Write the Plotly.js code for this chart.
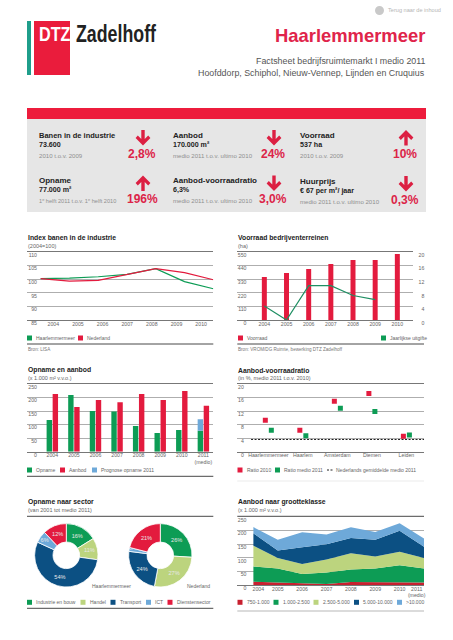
<!DOCTYPE html>
<html><head><meta charset="utf-8">
<script src="https://cdn.plot.ly/plotly-3.0.1.min.js"></script>
<style>html,body{margin:0;padding:0;background:#fff}#c{width:453px;height:640px}</style></head>
<body><div id="c"></div>
<script>
const W=453,H=640;
const RED='#e31b3e',GREEN='#0d9c55',LGREEN='#bcd47e',NAVY='#0c5083',BLUE='#6ea9d9',GREY='#7d7d7d',DARK='#222222';
const FONT='"Liberation Sans", Arial, sans-serif';

// chart 1
const years1=[2004,2005,2006,2007,2008,2009,2010];
const indexHaarlem=[100.2,100.4,100.9,101.8,103.9,99.1,96.5];
const indexNL=[100.2,99.3,99.6,101.7,103.9,102.4,99.8];
// chart 2
const voorraad=[348,380,412,453,485,485,534];
const uitgifteYears=[2004,2005,2006,2007,2008,2009];
const uitgifte=[4.1,0,10.1,10.1,7.2,6];
const uitgifteTicks=[0,4,8,12,16,20];
const uitgifteLabels=['\u20070','\u20074','\u20078','12','16','20'];
// chart 3
const years3=[2004,2005,2006,2007,2008,2009,2010,2011];
const labels3=['2004','2005','2006','2007','2008','2009','2010','2011<br>(medio)'];
const opname=[117,209,150,148,95,69,80,77];
const aanbod=[213,165,191,183,213,191,224,170];
const prognose=[0,0,0,0,0,0,0,43];
// chart 4
const steden=['Haarlemmermeer','Haarlem','Amsterdam','Diemen','Leiden'];
const ratio2010=[9.3,6.3,14.9,17.2,4.6];
const ratio2011=[6.3,4.7,12.8,11.9,4.9];
const gemiddelde=3.6;
// chart 5
const sectoren=['Industrie en bouw','Handel','Transport','ICT','Dienstensector'];
const sectorHaarlem=[16,11,54,6,12];
const sectorNL=[26,27,24,2,21];
// chart 6
const klasse1=[12,10,6,4,11,10,10,9];
const klasse2=[56,50,34,42,46,50,62,51];
const klasse3=[76,39,37,47,59,44,50,39];
const klasse4=[45,27,61,56,56,62,77,41];
const klasse5=[23,40,55,36,39,28,27,30];

const fx=p=>p/W, fy=p=>1-p/H;
const shapes=[],ann=[];
function rect(x0,y0,x1,y1,c){shapes.push({type:'rect',xref:'paper',yref:'paper',x0:fx(x0),x1:fx(x1),y0:fy(y0),y1:fy(y1),fillcolor:c,line:{width:0},layer:'below'});}
function hline(x0,x1,y,c,w){shapes.push({type:'line',xref:'paper',yref:'paper',x0:fx(x0),x1:fx(x1),y0:fy(y),y1:fy(y),line:{color:c,width:w}});}
function txt(x,y,t,size,color,o={}){ann.push({xref:'paper',yref:'paper',x:fx(x),y:fy(y),text:t,showarrow:false,xanchor:o.a||'left',yanchor:'middle',borderpad:0,align:o.a||'left',font:{family:o.f||FONT,size,color}});}
function arrow(cx,y0,y1,up,c){
  const s=up?-1:1, top=up?y1:y0, tip=up?y0:y1;
  const P=[[-1.7,top],[1.7,top],[1.7,tip-s*6.5],[5.2,tip-s*10],[7.4,tip-s*7.6],[0,tip],[-7.4,tip-s*7.6],[-5.2,tip-s*10],[-1.7,tip-s*6.5]];
  const d=P.map((p,i)=>(i?'L':'M')+fx(cx+p[0]).toFixed(5)+','+fy(p[1]).toFixed(5)).join(' ')+' Z';
  shapes.push({type:'path',xref:'paper',yref:'paper',path:d,fillcolor:c,line:{width:0}});
}
function swatch(x,y,c){rect(x,y-2.5,x+5,y+2.5,c);}

// header
rect(27,21,31,75,'#1f9e8b');
rect(34,21,70,75,'#ea1c3c');
txt(38,33.5,'<b>DTZ</b>',20,'#ffffff');
txt(74.5,33.5,'<b>Zadelhoff</b>',23,'#222222');
shapes.push({type:'circle',xref:'paper',yref:'paper',x0:fx(375),x1:fx(384),y0:fy(15),y1:fy(6),fillcolor:'#c9c9c9',line:{width:0}});
txt(387,10.3,'Terug naar de inhoud',5.6,'#b5b5b5');
txt(426,35.5,'<b>Haarlemmermeer</b>',18.4,'#e0244a',{a:'right'});
txt(426,61,'Factsheet bedrijfsruimtemarkt I medio 2011',8.85,'#555555',{a:'right'});
txt(426,72.5,'Hoofddorp, Schiphol, Nieuw-Vennep, Lijnden en Cruquius',8.85,'#555555',{a:'right'});

// KPI panel
rect(27,108,426,119,'#ed1c3c');
rect(27,119,426,212,'#e6e6e6');
const kpis=[
 [38,135,'Banen in de industrie','73.600','2010 t.o.v. 2009','2,8%',142,false,7.5,6.1],
 [38,180.5,'Opname','77.000 m²','1<sup>e</sup> helft 2011 t.o.v. 1<sup>e</sup> helft 2010','196%',142,true,8,5.6],
 [171.5,135,'Aanbod','170.000 m²','medio 2011 t.o.v. ultimo 2010','24%',273,false,8,6.1],
 [171.5,180.5,'Aanbod-voorraadratio','6,3%','medio 2011 t.o.v. ultimo 2010','3,0%',273,false,8,6.1],
 [299,135,'Voorraad','537 ha','2010 t.o.v. 2009','10%',405,true,8,6.1],
 [299,181,'Huurprijs','€ 67 per m²/ jaar','medio 2011 t.o.v. ultimo 2010','0,3%',405,false,8,6.1]];
kpis.forEach(k=>{
  txt(k[0],k[1],'<b>'+k[2]+'</b>',k[8],DARK);
  txt(k[0],k[1]+10,'<b>'+k[3]+'</b>',7.1,DARK);
  txt(k[0],k[1]+20,k[4],k[9],'#8f8f8f');
  txt(k[6],k[1]+18.5,'<b>'+k[5]+'</b>',12,'#dc2448',{a:'center'});
  arrow(k[6]+1,k[1]-5,k[1]+10.5,k[7],'#dc1f42');
});

// section captions
function head(x,yT,yS,t,s){txt(x,yT,'<b>'+t+'</b>',6.8,DARK);txt(x,yS,s,5.5,'#666666');}
head(27,237.7,245.7,'Index banen in de industrie','(2004=100)');
head(237.3,237.7,245.7,'Voorraad bedrijventerreinen','(ha)');
head(27,370.3,378,'Opname en aanbod','(x 1.000 m² v.v.o.)');
head(237.3,370.3,378,'Aanbod-voorraadratio','(in %, medio 2011 t.o.v. 2010)');
head(27,502,510.3,'Opname naar sector','(van 2001 tot medio 2011)');
head(237.3,502,510.3,'Aanbod naar grootteklasse','(x 1.000 m² v.v.o.)');

// legends
const LG='#666666',LS=5;
function leg(y,items){items.forEach(i=>{swatch(i[0],y,i[1]);txt(i[0]+8,y,i[2],LS,LG);});}
leg(338,[[27,GREEN,'Haarlemmermeer'],[78,RED,'Nederland']]);
leg(338,[[238,RED,'Voorraad'],[381,GREEN,'Jaarlijkse uitgifte']]);
leg(470,[[27,GREEN,'Opname'],[60,RED,'Aanbod'],[92,BLUE,'Prognose opname 2011']]);
leg(470,[[237.5,RED,'Ratio 2010'],[275,GREEN,'Ratio medio 2011']]);
shapes.push({type:'line',xref:'paper',yref:'paper',x0:fx(327),x1:fx(333),y0:fy(470),y1:fy(470),line:{color:'#222',width:1,dash:'2px,1.5px'}});
txt(335,470,'Nederlands gemiddelde medio 2011',LS,LG);
leg(602.3,[[27,GREEN,sectoren[0]],[80.5,LGREEN,sectoren[1]],[110.5,NAVY,sectoren[2]],[146,BLUE,sectoren[3]],[167.5,RED,sectoren[4]]]);
leg(602.3,[[237.5,'#c8202f','750-1.000'],[273.5,GREEN,'1.000-2.500'],[313.5,LGREEN,'2.500-5.000'],[354,NAVY,'5.000-10.000'],[397,BLUE,'>10.000']]);
txt(91,585.7,'Haarlemmermeer',5,LG);
txt(185.7,585.7,'Nederland',5,LG);

// rules + sources
hline(27,213.3,344,'#333',0.9);hline(237.3,424,344,'#333',0.9);
hline(27,213.3,476.3,'#333',0.9);hline(237.3,424,481,'#dddddd',0.6);
hline(27,213.3,516.3,'#333',0.9);hline(237.3,424,516.3,'#333',0.9);
hline(27,213.3,608.3,'#333',0.9);hline(237.3,424,611,'#999999',0.7);
txt(27,349.3,'Bron: LISA',4.6,'#777777');
txt(237.3,349.3,'Bron: VROM/DG Ruimte, bewerking DTZ Zadelhoff',4.6,'#777777');

// axes
const TF={family:FONT,size:5.2,color:'#666666'};
const GC='#a5a5a5',AC='#777777';
function xax(x0,x1,range,tickvals,ticktext,mirror,anchor,extra){return Object.assign({domain:[fx(x0),fx(x1)],range,tickmode:'array',tickvals,ticktext,tickfont:TF,tickangle:0,ticklabelstandoff:-2,showgrid:false,zeroline:false,ticks:'',showline:true,linecolor:AC,linewidth:1.3,mirror,anchor,fixedrange:true},extra||{});}
function yax(y0,y1,range,dtick,pos,anchor,extra){return Object.assign({domain:[fy(y1),fy(y0)],range,dtick,tickmode:'linear',tick0:0,tickfont:TF,showgrid:true,gridcolor:GC,gridwidth:0.9,zeroline:false,ticks:'',ticklen:0,showline:false,anchor:'free',position:fx(pos),ticklabelshift:3,fixedrange:true},extra||{});}

const ticks1=years1.map((_,i)=>2004.4375+0.8566*i);
const traces=[
 // 1
 {type:'scatter',mode:'lines',x:years1,y:indexHaarlem,xaxis:'x',yaxis:'y',line:{color:GREEN,width:1.2}},
 {type:'scatter',mode:'lines',x:years1,y:indexNL,xaxis:'x',yaxis:'y',line:{color:RED,width:1.2}},
 // 2
 {type:'bar',x:years1,y:voorraad,width:0.225,xaxis:'x2',yaxis:'y2',marker:{color:RED,line:{width:0}}},
 {type:'scatter',mode:'lines',x:uitgifteYears,y:uitgifte,xaxis:'x2',yaxis:'y7',line:{color:'#1f8f63',width:1.2}},
 // 3
 {type:'bar',x:years3,y:opname,width:0.25,offset:-0.265,xaxis:'x3',yaxis:'y3',marker:{color:GREEN,line:{width:0}}},
 {type:'bar',x:years3,y:prognose,base:opname,width:0.25,offset:-0.265,xaxis:'x3',yaxis:'y3',marker:{color:BLUE,line:{width:0}}},
 {type:'bar',x:years3,y:aanbod,width:0.25,offset:0.015,xaxis:'x3',yaxis:'y3',marker:{color:RED,line:{width:0}}},
 // 4
 {type:'scatter',mode:'lines',x:[-0.5,4.51],y:[gemiddelde,gemiddelde],xaxis:'x4',yaxis:'y4',line:{color:'#222',width:1,dash:'2px,1.5px'}},
 {type:'scatter',mode:'markers',x:steden.map((_,i)=>i-0.087),y:ratio2010,xaxis:'x4',yaxis:'y4',marker:{symbol:'square',size:5,color:RED}},
 {type:'scatter',mode:'markers',x:steden.map((_,i)=>i+0.087),y:ratio2011,xaxis:'x4',yaxis:'y4',marker:{symbol:'square',size:5,color:GREEN}},
 // 5
 {type:'pie',labels:sectoren,values:sectorHaarlem,sort:false,direction:'clockwise',rotation:0,hole:0.42,
  domain:{x:[fx(34.6),fx(98)],y:[fy(587),fy(523.6)]},marker:{colors:[GREEN,LGREEN,NAVY,BLUE,RED],line:{color:'#fff',width:0.8}},
  texttemplate:'%{value}%',textposition:'inside',insidetextorientation:'horizontal',textfont:{family:FONT,size:5.6,color:'#e8e8e8'}},
 {type:'pie',labels:sectoren,values:sectorNL,sort:false,direction:'clockwise',rotation:0,hole:0.42,
  domain:{x:[fx(128.6),fx(192)],y:[fy(587),fy(523.6)]},marker:{colors:[GREEN,LGREEN,NAVY,BLUE,RED],line:{color:'#fff',width:0.8}},
  texttemplate:'%{value}%',textposition:'inside',insidetextorientation:'horizontal',textfont:{family:FONT,size:5.6,color:'#e8e8e8'}},
 // 6
];
[[klasse1,'#c8202f'],[klasse2,GREEN],[klasse3,LGREEN],[klasse4,NAVY],[klasse5,BLUE]].forEach(k=>{
  traces.push({type:'scatter',mode:'lines',x:years3,y:k[0],stackgroup:'a',xaxis:'x6',yaxis:'y6',line:{width:0,color:k[1]},fillcolor:k[1]});
});

const layout={width:W,height:H,margin:{l:0,r:0,t:0,b:0},paper_bgcolor:'#fff',plot_bgcolor:'rgba(0,0,0,0)',showlegend:false,barmode:'overlay',font:{family:FONT},shapes,annotations:ann,
 xaxis:xax(27.3,213.3,[2003.535,2010],ticks1,years1.map(String),true,'y'),
 yaxis:yax(252,320,[85,110],5,37,'x'),
 xaxis2:xax(237.3,413.3,[2002.78,2010.72],years1,years1.map(String),true,'y2'),
 yaxis2:yax(252,320,[0,550],110,246.5,'x2'),
 yaxis7:yax(252,320,[0,20],4,417.5,'x2',{overlaying:'y2',side:'right',showgrid:false,tickmode:'array',tickvals:uitgifteTicks,ticktext:uitgifteLabels}),
 xaxis3:xax(27.3,213.3,[2002.84,2011.46],years3,labels3,true,'y3'),
 yaxis3:yax(384,451.7,[0,250],50,37,'x3'),
 xaxis4:xax(237.3,424,[-0.899,4.51],steden.map((_,i)=>i),steden,true,'y4'),
 yaxis4:yax(384,451.7,[0,20],4,243.8,'x4'),
 xaxis6:xax(237.3,424,[2003.34,2011],[2004.2,2005,2006,2007,2008,2009,2010,2010.7],labels3,false,'y6'),
 yaxis6:yax(516.7,585,[0,250],50,246.5,'x6',{}),
};
Plotly.newPlot('c',traces,layout,{staticPlot:true,displayModeBar:false}).then(()=>{
  // the reference's logotype is a condensed face: fit the bold sans to its measured width
  document.querySelectorAll('.annotation-text').forEach(t=>{
    if(t.textContent==='Zadelhoff'){t.setAttribute('textLength','80');t.setAttribute('lengthAdjust','spacingAndGlyphs');}
    if(t.textContent==='DTZ'){t.setAttribute('textLength','31.5');t.setAttribute('lengthAdjust','spacingAndGlyphs');}
  });
});
</script></body></html>
